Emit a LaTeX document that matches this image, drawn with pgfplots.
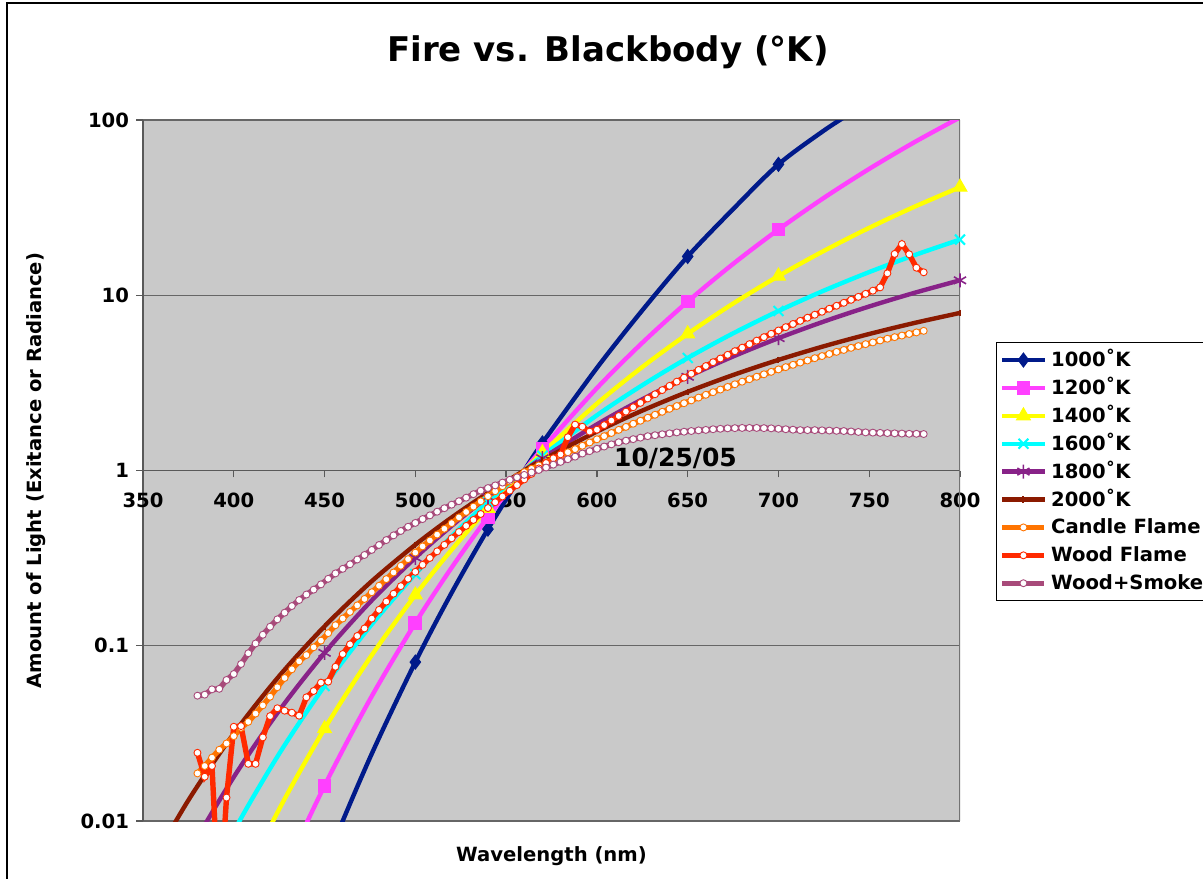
\documentclass[border=0pt]{standalone}
\usepackage{fontspec}
\setmainfont{DejaVu Sans}
\usepackage{pgfplots}
\pgfplotsset{compat=1.18}
\usetikzlibrary{plotmarks}
\definecolor{cNavy}{HTML}{001A8A}
\definecolor{cMag}{HTML}{FF40FF}
\definecolor{cYel}{HTML}{FFFF00}
\definecolor{cCyan}{HTML}{00FFFF}
\definecolor{cPurp}{HTML}{882288}
\definecolor{cDred}{HTML}{8B1A00}
\definecolor{cOrange}{HTML}{FF7400}
\definecolor{cRed}{HTML}{FF2A00}
\definecolor{cPlum}{HTML}{A84A7A}
\definecolor{plotgray}{HTML}{C9C9C9}
\begin{document}
\begin{tikzpicture}
\path[use as bounding box] (0bp,0bp) rectangle (601.5bp,439.5bp);
\draw[black, line width=1bp] (3.5bp,-20bp) -- (3.5bp,438bp) -- (640bp,438bp);
\begin{axis}[
  at={(71.5bp,29bp)}, anchor=south west,
  scale only axis, width=408.5bp, height=350.5bp,
  xmin=350, xmax=800, ymin=0.01, ymax=100, ymode=log,
  axis x line=middle, axis y line=left,
  axis line style={-, draw=black!65, line width=0.7bp},
  every inner x axis line/.append style={-},
  every outer y axis line/.append style={-},
  hide obscured x ticks=false, hide obscured y ticks=false,
  xtick={350,400,450,500,550,600,650,700,750,800},
  xticklabels={350,400,450,500,550,600,650,700,750,800},
  ytick={0.01,0.1,1,10,100},
  yticklabels={0.01,0.1,1,10,100},
  yminorticks=false,
  xtick align=outside, ytick align=outside,
  major tick length=3.5bp,
  tick style={draw=black!65, line width=0.7bp},
  /pgf/number format/assume math mode=true,
  tick label style={font=\bfseries\fontsize{9.8bp}{11bp}\selectfont},
  xticklabel style={yshift=-4bp},
  ymajorgrids, major grid style={draw=black!60, line width=0.7bp},
  axis background/.style={fill=plotgray},
  title={Fire vs. Blackbody (°K)},
  title style={at={(axis description cs:0.569,1.0799)}, anchor=center, font=\bfseries\fontsize{17bp}{20bp}\selectfont},
  xlabel={Wavelength (nm)},
  xlabel style={at={(axis description cs:0.5,-0.0505)}, anchor=center, font=\bfseries\fontsize{9.8bp}{11bp}\selectfont},
  ylabel={Amount of Light (Exitance or Radiance)},
  ylabel style={at={(axis description cs:-0.131,0.5)}, anchor=center, rotate=0, font=\bfseries\fontsize{9.8bp}{11bp}\selectfont},
  legend cell align=left,
  legend style={at={(axis description cs:1.0441,0.6833)}, anchor=north west,
    draw=black, line width=0.7bp, fill=white,
    font=\bfseries\fontsize{9.8bp}{11bp}\selectfont,
    inner xsep=1.5bp, inner ysep=3.4bp, row sep=3.45bp,
    nodes={inner ysep=0.5bp, text height=8bp, text depth=1.5bp}},
  legend image code/.code={\draw[#1, mark indices={2}] plot coordinates {(0bp,0bp) (10.5bp,0bp) (21bp,0bp)};},
  bb/.style={line width=2.2bp, smooth},
  meas/.style={line width=2.7bp, mark=*, mark size=1.75bp, mark options={fill=white, draw=#1, line width=0.45bp}, draw=#1},
]
% 1000 K
\addplot[bb, cNavy, mark=diamond*, mark size=3.5bp, mark options={fill=cNavy, draw=cNavy, line width=0.5bp}, mark indices={2,4,6,9,11}] table {
350 2.12e-6
375 2.32e-5
400 1.849e-4
425 1.134e-3
450 5.59e-3
475 0.02294
500 0.0807
520 0.2007
540 0.4630
560 1
570 1.4366
600 3.85
625 8.2
650 16.65
675 31.0
700 55.86
725 87
750 130
775 220
800 374.3
};
\addlegendentry{1000˚K}
% 1200 K
\addplot[bb, cMag, mark=square*, mark size=3.2bp, mark options={fill=cMag, draw=cMag, line width=0.5bp}, mark indices={1,3,5,7,10,12}] table {
350 2.76e-5
375 1.92e-4
400 1.027e-3
425 4.418e-3
450 0.01591
475 0.04938
500 0.1350
520 0.2791
540 0.5429
560 1
570 1.3324
600 2.952
625 5.353
650 9.201
675 15.09
700 23.72
725 35.94
750 52.63
775 74.82
800 103.5
};
\addlegendentry{1200˚K}
% 1400 K
\addplot[bb, cYel, mark=triangle*, mark size=4bp, mark options={fill=cYel, draw=cYel, line width=0.5bp}, mark indices={2,4,6,8,11,13,17}] table {
350 1.73e-4
375 8.69e-4
400 3.488e-3
425 0.01168
450 0.03362
475 0.08536
500 0.1949
520 0.3530
540 0.6078
560 1
570 1.2630
600 2.4072
625 3.8946
650 6.0249
675 8.963
700 12.87
725 17.91
750 24.25
775 32.03
800 41.36
};
\addlegendentry{1400˚K}
% 1600 K
\addplot[bb, cCyan, mark=x, mark size=3.5bp, mark options={draw=cCyan, line width=1bp}, mark indices={2,4,6,8,11,13,17}] table {
350 6.86e-4
375 2.694e-3
400 8.734e-3
425 0.02419
450 0.05892
475 0.1287
500 0.2566
520 0.4210
540 0.6616
560 1
570 1.2131
600 2.0663
625 3.0671
650 4.3852
675 6.0614
700 8.1326
725 10.627
750 13.563
775 16.95
800 20.78
};
\addlegendentry{1600˚K}
% 1800 K
\addplot[bb, cPurp, mark=asterisk, mark size=3.5bp, mark options={draw=cPurp, line width=0.8bp}, mark indices={3,5,7,9,12,14,18}] table {
350 2.0e-3
375 6.496e-3
400 0.01783
425 0.04265
450 0.09112
475 0.1771
500 0.3178
520 0.4831
540 0.7070
560 1
570 1.1757
600 1.8339
625 2.5485
650 3.4253
675 4.4731
700 5.6914
725 7.0805
750 8.6296
775 10.331
800 12.17
};
\addlegendentry{1800˚K}
% 2000 K
\addplot[bb, cDred, mark=|, mark size=1.6bp, mark options={draw=cDred, line width=1bp}, mark indices={4,6,8,10,13,15,19}] table {
350 4.711e-3
375 0.01314
400 0.03155
425 0.06713
450 0.1291
475 0.2287
500 0.3772
520 0.5393
540 0.7454
560 1
570 1.1467
600 1.6679
625 2.1968
650 2.8110
675 3.5066
700 4.2782
725 5.1170
750 6.0121
775 6.9536
800 7.929
};
\addlegendentry{2000˚K}
% Candle Flame
\addplot[meas=cOrange] table {
380 0.0187
384 0.0206
388 0.0230
392 0.0255
396 0.0277
400 0.0305
404 0.0340
408 0.0368
412 0.0410
416 0.0457
420 0.0512
424 0.0580
428 0.0655
432 0.0734
436 0.0815
440 0.0885
444 0.0980
448 0.1070
452 0.1180
456 0.1310
460 0.1430
464 0.156
468 0.170
472 0.185
476 0.202
480 0.220
484 0.240
488 0.262
492 0.286
496 0.312
500 0.340
504 0.369
508 0.399
512 0.431
516 0.465
520 0.501
524 0.540
528 0.580
532 0.622
536 0.667
540 0.713
544 0.762
548 0.813
552 0.867
556 0.922
560 0.979
564 1.023
568 1.069
572 1.114
576 1.164
580 1.216
584 1.271
588 1.324
592 1.384
596 1.445
600 1.507
604 1.570
608 1.637
612 1.706
616 1.774
620 1.849
624 1.923
628 2.000
632 2.080
636 2.163
640 2.249
644 2.333
648 2.421
652 2.512
656 2.606
660 2.704
664 2.799
668 2.897
672 2.999
676 3.105
680 3.214
684 3.319
688 3.428
692 3.540
696 3.656
700 3.776
704 3.890
708 4.009
712 4.130
716 4.246
720 4.375
724 4.498
728 4.624
732 4.753
736 4.875
740 5.012
744 5.129
748 5.260
752 5.383
756 5.521
760 5.649
764 5.768
768 5.888
772 6.012
776 6.138
780 6.266
};
\addlegendentry{Candle Flame}
% Wood Flame
\addplot[meas=cRed] table {
380 0.0245
384 0.0179
388 0.0206
392 0.0030
396 0.0136
400 0.0345
404 0.0348
408 0.0212
412 0.0212
416 0.0300
420 0.0397
424 0.0440
428 0.0426
432 0.0415
436 0.0399
440 0.0508
444 0.0552
448 0.0616
452 0.0624
456 0.0759
460 0.0897
464 0.1019
468 0.1137
472 0.1256
476 0.1429
480 0.1603
484 0.1786
488 0.1982
492 0.2188
496 0.2410
500 0.2642
504 0.2897
508 0.3170
512 0.3459
516 0.3767
520 0.4102
524 0.4457
528 0.4831
532 0.5224
536 0.5649
540 0.6109
544 0.6592
548 0.7112
552 0.7674
556 0.8260
560 0.8892
564 0.9572
568 1.028
572 1.104
576 1.175
580 1.236
584 1.549
588 1.828
592 1.778
596 1.667
600 1.710
604 1.816
608 1.928
612 2.046
616 2.168
620 2.296
624 2.432
628 2.576
632 2.723
636 2.877
640 3.041
644 3.214
648 3.388
652 3.565
656 3.750
660 3.945
664 4.150
668 4.355
672 4.571
676 4.797
680 5.023
684 5.260
688 5.508
692 5.768
696 6.026
700 6.295
704 6.577
708 6.855
712 7.145
716 7.447
720 7.745
724 8.054
728 8.375
732 8.710
736 9.057
740 9.419
744 9.795
748 10.19
752 10.62
756 11.09
760 13.34
764 17.22
768 19.59
772 17.14
776 14.36
780 13.52
};
\addlegendentry{Wood Flame}
% Wood+Smoke
\addplot[meas=cPlum] table {
380 0.0519
384 0.0526
388 0.0564
392 0.0568
396 0.0638
400 0.0690
404 0.0787
408 0.0906
412 0.1030
416 0.1156
420 0.1284
424 0.1415
428 0.1544
432 0.1685
436 0.1824
440 0.1960
444 0.2090
448 0.2240
452 0.2410
456 0.2588
460 0.2748
464 0.2917
468 0.3105
472 0.3296
476 0.3524
480 0.3758
484 0.4009
488 0.4266
492 0.4519
496 0.4775
500 0.5023
504 0.5284
508 0.5546
512 0.5821
516 0.6095
520 0.6383
524 0.6683
528 0.6998
532 0.7328
536 0.7674
540 0.7943
544 0.8222
548 0.8531
552 0.8851
556 0.9141
560 0.9441
564 0.9750
568 1.007
572 1.04
576 1.08
580 1.12
584 1.16
588 1.20
592 1.25
596 1.29
600 1.33
604 1.37
608 1.41
612 1.45
616 1.48
620 1.51
624 1.54
628 1.57
632 1.59
636 1.61
640 1.63
644 1.65
648 1.665
652 1.68
656 1.695
660 1.705
664 1.72
668 1.73
672 1.74
676 1.745
680 1.75
684 1.75
688 1.75
692 1.745
696 1.74
700 1.73
704 1.72
708 1.71
712 1.70
716 1.70
720 1.70
724 1.695
728 1.69
732 1.685
736 1.68
740 1.67
744 1.66
748 1.65
752 1.645
756 1.64
760 1.635
764 1.63
768 1.625
772 1.62
776 1.62
780 1.615
};
\addlegendentry{Wood+Smoke}
\draw[black!55, line width=0.6bp] (rel axis cs:1,0) -- (rel axis cs:1,1);
\node[font=\bfseries\fontsize{12.5bp}{14bp}\selectfont] at (axis cs:643.3,1.171) {10/25/05};
\end{axis}
\end{tikzpicture}
\end{document}
